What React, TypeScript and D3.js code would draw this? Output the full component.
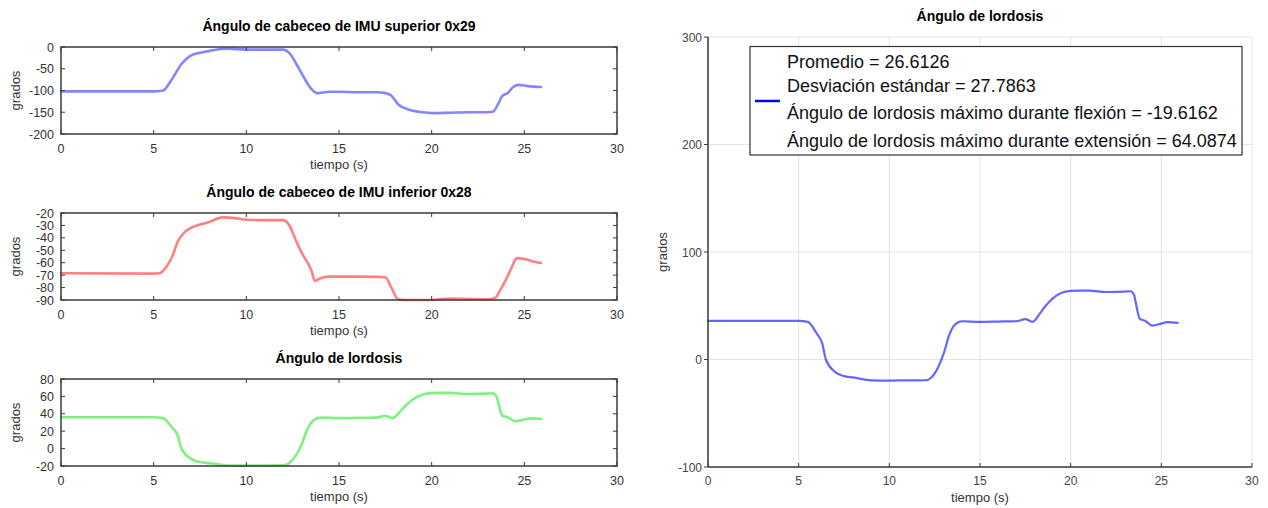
import React from "react";
import * as d3 from "d3";

const upperT = [0, 5, 5.5, 6, 6.5, 7, 7.5, 8, 8.5, 9, 10, 11, 12, 12.3, 12.7, 13, 13.5, 13.8, 14.5, 15, 16, 17, 17.5, 17.8, 18.2, 18.7, 19.5, 20, 21, 22, 23, 23.3, 23.6, 23.8, 24.1, 24.4, 24.7, 25.2, 25.9];
const upperV = [-102, -102, -100, -73, -39, -20, -13, -9, -5, -3.8, -6, -6, -6, -13, -39, -62, -96, -106, -103, -103, -104, -104, -106, -111, -132, -143, -150, -152, -151, -150, -150, -149, -130, -113, -106, -92, -87, -90, -92];

const lowerT = [0, 5, 5.3, 5.7, 6, 6.3, 6.7, 7.2, 8, 8.7, 9.5, 10, 11, 12, 12.3, 12.7, 13, 13.5, 13.7, 14, 14.4, 15, 16, 17, 17.5, 17.8, 18.2, 18.5, 19.5, 20, 20.5, 21, 22, 23, 23.4, 23.7, 24, 24.3, 24.6, 25, 25.5, 25.9];
const lowerV = [-68.5, -68.8, -68.5, -63, -55, -43, -35, -30.8, -27.3, -23.5, -24.3, -25.4, -25.7, -25.7, -29.4, -43, -52.3, -65.8, -74.6, -72.5, -71.2, -71.2, -71.2, -71.4, -71.7, -79.3, -89.5, -90, -90, -90, -89.2, -88.9, -89.2, -89.5, -88.6, -82, -73.8, -64.4, -56.3, -57, -59, -60.3];

const lordT = [0, 5, 5.5, 6, 6.3, 6.5, 7, 7.5, 8, 9, 10, 11, 12, 12.3, 12.7, 13, 13.3, 13.6, 14, 15, 16, 17, 17.5, 17.9, 18.3, 18.6, 19, 19.5, 20, 20.5, 21, 22, 23, 23.3, 23.5, 23.6, 23.7, 23.8, 24.1, 24.5, 25, 25.3, 25.9];
const lordV = [36, 36, 35, 24, 15, 0, -11.5, -15.5, -16.7, -19.4, -19.6, -19.4, -19.3, -17, -7, 5.6, 22.6, 32, 35.6, 35, 35.3, 35.6, 37.5, 35, 42.7, 49.5, 56.7, 62, 63.8, 64.1, 64, 62.8, 63.2, 63.5, 59.8, 52, 44, 38, 36, 31.6, 33.4, 34.7, 34];

const xTicks = [0, 5, 10, 15, 20, 25, 30];
const upperTicks = [0, -50, -100, -150, -200];
const lowerTicks = [-20, -30, -40, -50, -60, -70, -80, -90];
const lordSmallTicks = [80, 60, 40, 20, 0, -20];
const lordBigTicks = [300, 200, 100, 0, -100];

const legendLines = [
  "Promedio = 26.6126",
  "Desviación estándar = 27.7863",
  "Ángulo de lordosis máximo durante flexión = -19.6162",
  "Ángulo de lordosis máximo durante extensión = 64.0874",
];

const FONT = "'Liberation Sans', Arial, Helvetica, sans-serif";

type SmallProps = {
  top: number;
  title: string;
  t: number[];
  v: number[];
  yDomain: [number, number];
  yTicks: number[];
  color: string;
};

function SmallPlot({ top, title, t, v, yDomain, yTicks, color }: SmallProps) {
  const left = 61, right = 617, h = 87;
  const x = d3.scaleLinear().domain([0, 30]).range([left, right]);
  const y = d3.scaleLinear().domain(yDomain).range([top + h, top]);
  const pts = t.map((d, i) => [d, v[i]] as [number, number]);
  const line = d3.line<[number, number]>().x(d => x(d[0])).y(d => y(d[1])).curve(d3.curveMonotoneX);
  const tl = 4;
  return (
    <g>
      <text x={(left + right) / 2} y={top - 16} textAnchor="middle" fontWeight="bold" fontSize={14} fill="#000">{title}</text>
      <path d={line(pts) || ""} fill="none" stroke={color} strokeWidth={2.6} strokeLinejoin="round" strokeLinecap="round" />
      <rect x={left} y={top} width={right - left} height={h} fill="none" stroke="#3a3a3a" strokeWidth={1.5} />
      {xTicks.map(d => (
        <g key={"x" + d}>
          <line x1={x(d)} x2={x(d)} y1={top + h} y2={top + h - tl} stroke="#3a3a3a" />
          <line x1={x(d)} x2={x(d)} y1={top} y2={top + tl} stroke="#3a3a3a" />
          <text x={x(d)} y={top + h + 19} textAnchor="middle" fontSize={12.5} fill="#333">{d}</text>
        </g>
      ))}
      {yTicks.map(d => (
        <g key={"y" + d}>
          <line x1={left} x2={left + tl} y1={y(d)} y2={y(d)} stroke="#3a3a3a" />
          <line x1={right} x2={right - tl} y1={y(d)} y2={y(d)} stroke="#3a3a3a" />
          <text x={left - 7} y={y(d) + 4.5} textAnchor="end" fontSize={12.5} fill="#333">{d}</text>
        </g>
      ))}
      <text x={(left + right) / 2} y={top + h + 35} textAnchor="middle" fontSize={13} fill="#333">tiempo (s)</text>
      <text transform={`translate(20,${top + h / 2}) rotate(-90)`} textAnchor="middle" fontSize={13} fill="#333">grados</text>
    </g>
  );
}

function BigPlot() {
  const left = 708, right = 1252, top = 37, bottom = 467;
  const x = d3.scaleLinear().domain([0, 30]).range([left, right]);
  const y = d3.scaleLinear().domain([-100, 300]).range([bottom, top]);
  const pts = lordT.map((d, i) => [d, lordV[i]] as [number, number]);
  const line = d3.line<[number, number]>().x(d => x(d[0])).y(d => y(d[1])).curve(d3.curveMonotoneX);
  return (
    <g>
      <text x={(left + right) / 2} y={21} textAnchor="middle" fontWeight="bold" fontSize={14} fill="#000">Ángulo de lordosis</text>
      {xTicks.map(d => (
        <line key={"gx" + d} x1={x(d)} x2={x(d)} y1={top} y2={bottom} stroke="#e3e3e3" strokeWidth={1} />
      ))}
      {lordBigTicks.map(d => (
        <line key={"gy" + d} x1={left} x2={right} y1={y(d)} y2={y(d)} stroke="#e3e3e3" strokeWidth={1} />
      ))}
      <path d={line(pts) || ""} fill="none" stroke="#4a4aff" strokeOpacity={0.85} strokeWidth={2.2} strokeLinejoin="round" strokeLinecap="round" />
      <line x1={left} x2={left} y1={top} y2={bottom} stroke="#3a3a3a" strokeWidth={1.5} />
      <line x1={left} x2={right} y1={bottom} y2={bottom} stroke="#3a3a3a" strokeWidth={1.5} />
      {xTicks.map(d => (
        <g key={"x" + d}>
          <line x1={x(d)} x2={x(d)} y1={bottom} y2={bottom - 4} stroke="#3a3a3a" />
          <text x={x(d)} y={bottom + 18} textAnchor="middle" fontSize={12} fill="#444">{d}</text>
        </g>
      ))}
      {lordBigTicks.map(d => (
        <g key={"y" + d}>
          <line x1={left} x2={left - 4} y1={y(d)} y2={y(d)} stroke="#3a3a3a" />
          <text x={left - 6} y={y(d) + 4.5} textAnchor="end" fontSize={12} fill="#444">{d}</text>
        </g>
      ))}
      <text x={(left + right) / 2} y={bottom + 35} textAnchor="middle" fontSize={13} fill="#333">tiempo (s)</text>
      <text transform={`translate(667,${(top + bottom) / 2}) rotate(-90)`} textAnchor="middle" fontSize={13} fill="#333">grados</text>
      <rect x={750} y={46.5} width={492} height={108.5} fill="#fff" stroke="#333" strokeWidth={1.2} />
      <line x1={755} x2={780} y1={101} y2={101} stroke="#0000ff" strokeWidth={2.5} />
      {legendLines.map((s, i) => (
        <text key={s} x={787} y={[68, 92, 119, 147][i]} fontSize={18} fill="#111">{s}</text>
      ))}
    </g>
  );
}

export default function App() {
  return (
    <svg width={1268} height={508} style={{ position: "absolute", left: 0, top: 0, fontFamily: FONT, background: "#fff" }}>
      <rect x={0} y={0} width={1268} height={508} fill="#fff" />
      <SmallPlot top={47} title="Ángulo de cabeceo de IMU superior 0x29" t={upperT} v={upperV} yDomain={[-200, 0]} yTicks={upperTicks} color="#8585ff" />
      <SmallPlot top={213} title="Ángulo de cabeceo de IMU inferior 0x28" t={lowerT} v={lowerV} yDomain={[-90, -20]} yTicks={lowerTicks} color="#ff8080" />
      <SmallPlot top={379} title="Ángulo de lordosis" t={lordT} v={lordV} yDomain={[-20, 80]} yTicks={lordSmallTicks} color="#80f080" />
      <BigPlot />
    </svg>
  );
}
